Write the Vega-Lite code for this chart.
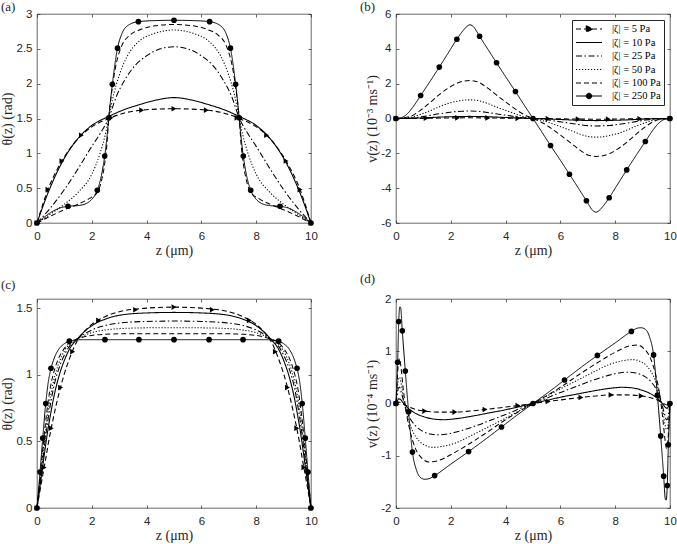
{
  "$schema": "https://vega.github.io/schema/vega-lite/v6.json",
  "background": "white",
  "padding": {"left": 0, "top": 0, "right": 0, "bottom": 0},
  "bounds": "flush",
  "spacing": {"row": 76, "column": 85},
  "columns": 2,
  "config": {
    "view": {"stroke": "#262626", "strokeWidth": 0.7},
    "axis": {"grid": false, "domain": false, "labelFlush": false, "labelOverlap": false, "tickColor": "#262626", "tickWidth": 0.7, "tickSize": -3,
      "labelFont": "Liberation Sans", "labelFontSize": 11.5, "labelColor": "#262626",
      "titleFont": "Liberation Serif", "titleFontSize": 14, "titleFontWeight": "normal", "titleColor": "#262626"},
    "axisBottom": {"labelPadding": 10, "titlePadding": 2},
    "axisLeft": {"labelPadding": 8, "titlePadding": 1.5},
    "title": {"font": "Liberation Serif", "fontSize": 13, "fontWeight": "normal", "color": "#262626", "anchor": "start", "frame": "group", "dx": -36}
  },
  "resolve": {"scale": {"strokeDash": "independent", "strokeWidth": "independent", "shape": "independent"}},
  "datasets": {
    "lines": [
      {"p":"a","s":"250","z":0,"v":0},{"p":"a","s":"250","z":0.25,"v":0.08},{"p":"a","s":"250","z":0.5,"v":0.15},{"p":"a","s":"250","z":0.8,"v":0.21},{"p":"a","s":"250","z":1.13,"v":0.24},{"p":"a","s":"250","z":1.5,"v":0.25},{"p":"a","s":"250","z":1.8,"v":0.28},{"p":"a","s":"250","z":2,"v":0.34},{"p":"a","s":"250","z":2.2,"v":0.47},{"p":"a","s":"250","z":2.35,"v":0.68},{"p":"a","s":"250","z":2.47,"v":0.96},{"p":"a","s":"250","z":2.55,"v":1.22},{"p":"a","s":"250","z":2.62,"v":1.51},{"p":"a","s":"250","z":2.75,"v":1.99},{"p":"a","s":"250","z":2.94,"v":2.51},{"p":"a","s":"250","z":3.1,"v":2.72},{"p":"a","s":"250","z":3.3,"v":2.83},{"p":"a","s":"250","z":3.7,"v":2.89},{"p":"a","s":"250","z":4.3,"v":2.905},{"p":"a","s":"250","z":5,"v":2.91},{"p":"a","s":"250","z":5.7,"v":2.905},{"p":"a","s":"250","z":6.3,"v":2.89},{"p":"a","s":"250","z":6.7,"v":2.83},{"p":"a","s":"250","z":6.9,"v":2.72},{"p":"a","s":"250","z":7.06,"v":2.51},{"p":"a","s":"250","z":7.25,"v":1.99},{"p":"a","s":"250","z":7.38,"v":1.51},{"p":"a","s":"250","z":7.45,"v":1.22},{"p":"a","s":"250","z":7.53,"v":0.96},{"p":"a","s":"250","z":7.65,"v":0.68},{"p":"a","s":"250","z":7.8,"v":0.47},{"p":"a","s":"250","z":8,"v":0.34},{"p":"a","s":"250","z":8.2,"v":0.28},{"p":"a","s":"250","z":8.5,"v":0.25},{"p":"a","s":"250","z":8.87,"v":0.24},{"p":"a","s":"250","z":9.2,"v":0.21},{"p":"a","s":"250","z":9.5,"v":0.15},{"p":"a","s":"250","z":9.75,"v":0.08},{"p":"a","s":"250","z":10,"v":0},
      {"p":"a","s":"100","z":0,"v":0},{"p":"a","s":"100","z":0.5,"v":0.1},{"p":"a","s":"100","z":1,"v":0.19},{"p":"a","s":"100","z":1.5,"v":0.27},{"p":"a","s":"100","z":1.9,"v":0.35},{"p":"a","s":"100","z":2.2,"v":0.44},{"p":"a","s":"100","z":2.35,"v":0.6},{"p":"a","s":"100","z":2.47,"v":0.85},{"p":"a","s":"100","z":2.55,"v":1.12},{"p":"a","s":"100","z":2.62,"v":1.51},{"p":"a","s":"100","z":2.75,"v":1.95},{"p":"a","s":"100","z":2.9,"v":2.3},{"p":"a","s":"100","z":3.1,"v":2.55},{"p":"a","s":"100","z":3.4,"v":2.7},{"p":"a","s":"100","z":3.8,"v":2.78},{"p":"a","s":"100","z":4.3,"v":2.83},{"p":"a","s":"100","z":5,"v":2.85},{"p":"a","s":"100","z":5.7,"v":2.83},{"p":"a","s":"100","z":6.2,"v":2.78},{"p":"a","s":"100","z":6.6,"v":2.7},{"p":"a","s":"100","z":6.9,"v":2.55},{"p":"a","s":"100","z":7.1,"v":2.3},{"p":"a","s":"100","z":7.25,"v":1.95},{"p":"a","s":"100","z":7.38,"v":1.51},{"p":"a","s":"100","z":7.45,"v":1.12},{"p":"a","s":"100","z":7.53,"v":0.85},{"p":"a","s":"100","z":7.65,"v":0.6},{"p":"a","s":"100","z":7.8,"v":0.44},{"p":"a","s":"100","z":8.1,"v":0.35},{"p":"a","s":"100","z":8.5,"v":0.27},{"p":"a","s":"100","z":9,"v":0.19},{"p":"a","s":"100","z":9.5,"v":0.1},{"p":"a","s":"100","z":10,"v":0},
      {"p":"a","s":"50","z":0,"v":0},{"p":"a","s":"50","z":0.5,"v":0.13},{"p":"a","s":"50","z":1,"v":0.27},{"p":"a","s":"50","z":1.5,"v":0.44},{"p":"a","s":"50","z":2,"v":0.7},{"p":"a","s":"50","z":2.3,"v":1.0},{"p":"a","s":"50","z":2.5,"v":1.28},{"p":"a","s":"50","z":2.62,"v":1.51},{"p":"a","s":"50","z":2.8,"v":1.85},{"p":"a","s":"50","z":3,"v":2.12},{"p":"a","s":"50","z":3.3,"v":2.4},{"p":"a","s":"50","z":3.7,"v":2.6},{"p":"a","s":"50","z":4.2,"v":2.71},{"p":"a","s":"50","z":5,"v":2.77},{"p":"a","s":"50","z":5.8,"v":2.71},{"p":"a","s":"50","z":6.3,"v":2.6},{"p":"a","s":"50","z":6.7,"v":2.4},{"p":"a","s":"50","z":7,"v":2.12},{"p":"a","s":"50","z":7.2,"v":1.85},{"p":"a","s":"50","z":7.38,"v":1.51},{"p":"a","s":"50","z":7.5,"v":1.28},{"p":"a","s":"50","z":7.7,"v":1.0},{"p":"a","s":"50","z":8,"v":0.7},{"p":"a","s":"50","z":8.5,"v":0.44},{"p":"a","s":"50","z":9,"v":0.27},{"p":"a","s":"50","z":9.5,"v":0.13},{"p":"a","s":"50","z":10,"v":0},
      {"p":"a","s":"25","z":0,"v":0},{"p":"a","s":"25","z":0.5,"v":0.22},{"p":"a","s":"25","z":1,"v":0.48},{"p":"a","s":"25","z":1.5,"v":0.78},{"p":"a","s":"25","z":2,"v":1.1},{"p":"a","s":"25","z":2.3,"v":1.28},{"p":"a","s":"25","z":2.62,"v":1.51},{"p":"a","s":"25","z":2.9,"v":1.82},{"p":"a","s":"25","z":3.2,"v":2.05},{"p":"a","s":"25","z":3.6,"v":2.27},{"p":"a","s":"25","z":4,"v":2.4},{"p":"a","s":"25","z":4.5,"v":2.5},{"p":"a","s":"25","z":5,"v":2.53},{"p":"a","s":"25","z":5.5,"v":2.5},{"p":"a","s":"25","z":6,"v":2.4},{"p":"a","s":"25","z":6.4,"v":2.27},{"p":"a","s":"25","z":6.8,"v":2.05},{"p":"a","s":"25","z":7.1,"v":1.82},{"p":"a","s":"25","z":7.38,"v":1.51},{"p":"a","s":"25","z":7.7,"v":1.28},{"p":"a","s":"25","z":8,"v":1.1},{"p":"a","s":"25","z":8.5,"v":0.78},{"p":"a","s":"25","z":9,"v":0.48},{"p":"a","s":"25","z":9.5,"v":0.22},{"p":"a","s":"25","z":10,"v":0},
      {"p":"a","s":"10","z":0,"v":0},{"p":"a","s":"10","z":0.4,"v":0.43},{"p":"a","s":"10","z":0.9,"v":0.86},{"p":"a","s":"10","z":1.6,"v":1.26},{"p":"a","s":"10","z":2,"v":1.4},{"p":"a","s":"10","z":2.62,"v":1.53},{"p":"a","s":"10","z":3.2,"v":1.63},{"p":"a","s":"10","z":3.75,"v":1.7},{"p":"a","s":"10","z":4.3,"v":1.76},{"p":"a","s":"10","z":5,"v":1.8},{"p":"a","s":"10","z":5.7,"v":1.76},{"p":"a","s":"10","z":6.25,"v":1.7},{"p":"a","s":"10","z":6.8,"v":1.63},{"p":"a","s":"10","z":7.38,"v":1.53},{"p":"a","s":"10","z":8,"v":1.4},{"p":"a","s":"10","z":8.4,"v":1.26},{"p":"a","s":"10","z":9.1,"v":0.86},{"p":"a","s":"10","z":9.6,"v":0.43},{"p":"a","s":"10","z":10,"v":0},
      {"p":"a","s":"5","z":0,"v":0},{"p":"a","s":"5","z":0.4,"v":0.48},{"p":"a","s":"5","z":0.91,"v":0.89},{"p":"a","s":"5","z":1.62,"v":1.26},{"p":"a","s":"5","z":2,"v":1.38},{"p":"a","s":"5","z":2.62,"v":1.5},{"p":"a","s":"5","z":3.2,"v":1.58},{"p":"a","s":"5","z":3.82,"v":1.62},{"p":"a","s":"5","z":4.4,"v":1.635},{"p":"a","s":"5","z":5,"v":1.64},{"p":"a","s":"5","z":5.6,"v":1.635},{"p":"a","s":"5","z":6.18,"v":1.62},{"p":"a","s":"5","z":6.8,"v":1.58},{"p":"a","s":"5","z":7.38,"v":1.5},{"p":"a","s":"5","z":8,"v":1.38},{"p":"a","s":"5","z":8.38,"v":1.26},{"p":"a","s":"5","z":9.09,"v":0.89},{"p":"a","s":"5","z":9.6,"v":0.48},{"p":"a","s":"5","z":10,"v":0},

      {"p":"b","s":"250","z":0,"v":0},{"p":"b","s":"250","z":0.2,"v":0.05},{"p":"b","s":"250","z":0.4,"v":0.25},{"p":"b","s":"250","z":0.6,"v":0.62},{"p":"b","s":"250","z":0.9,"v":1.32},{"p":"b","s":"250","z":1.25,"v":2.15},{"p":"b","s":"250","z":1.58,"v":2.95},{"p":"b","s":"250","z":1.9,"v":3.75},{"p":"b","s":"250","z":2.22,"v":4.55},{"p":"b","s":"250","z":2.45,"v":5.05},{"p":"b","s":"250","z":2.6,"v":5.3},{"p":"b","s":"250","z":2.7,"v":5.38},{"p":"b","s":"250","z":2.82,"v":5.28},{"p":"b","s":"250","z":3.05,"v":4.72},{"p":"b","s":"250","z":3.35,"v":3.98},{"p":"b","s":"250","z":3.67,"v":3.2},{"p":"b","s":"250","z":4,"v":2.4},{"p":"b","s":"250","z":4.36,"v":1.55},{"p":"b","s":"250","z":4.7,"v":0.72},{"p":"b","s":"250","z":5,"v":0},{"p":"b","s":"250","z":5.3,"v":-0.72},{"p":"b","s":"250","z":5.64,"v":-1.55},{"p":"b","s":"250","z":6,"v":-2.4},{"p":"b","s":"250","z":6.33,"v":-3.2},{"p":"b","s":"250","z":6.65,"v":-3.98},{"p":"b","s":"250","z":6.95,"v":-4.72},{"p":"b","s":"250","z":7.18,"v":-5.28},{"p":"b","s":"250","z":7.3,"v":-5.38},{"p":"b","s":"250","z":7.4,"v":-5.3},{"p":"b","s":"250","z":7.55,"v":-5.05},{"p":"b","s":"250","z":7.78,"v":-4.55},{"p":"b","s":"250","z":8.1,"v":-3.75},{"p":"b","s":"250","z":8.42,"v":-2.95},{"p":"b","s":"250","z":8.75,"v":-2.15},{"p":"b","s":"250","z":9.1,"v":-1.32},{"p":"b","s":"250","z":9.4,"v":-0.62},{"p":"b","s":"250","z":9.6,"v":-0.25},{"p":"b","s":"250","z":9.8,"v":-0.05},{"p":"b","s":"250","z":10,"v":0},
      {"p":"b","s":"100","z":0,"v":0},{"p":"b","s":"100","z":0.3,"v":0.04},{"p":"b","s":"100","z":0.6,"v":0.17},{"p":"b","s":"100","z":0.9,"v":0.48},{"p":"b","s":"100","z":1.25,"v":0.92},{"p":"b","s":"100","z":1.58,"v":1.37},{"p":"b","s":"100","z":1.9,"v":1.74},{"p":"b","s":"100","z":2.2,"v":2.01},{"p":"b","s":"100","z":2.45,"v":2.14},{"p":"b","s":"100","z":2.7,"v":2.18},{"p":"b","s":"100","z":3,"v":2.09},{"p":"b","s":"100","z":3.35,"v":1.74},{"p":"b","s":"100","z":3.65,"v":1.37},{"p":"b","s":"100","z":3.96,"v":1.0},{"p":"b","s":"100","z":4.26,"v":0.65},{"p":"b","s":"100","z":4.56,"v":0.33},{"p":"b","s":"100","z":4.8,"v":0.13},{"p":"b","s":"100","z":5,"v":0},{"p":"b","s":"100","z":5.2,"v":-0.13},{"p":"b","s":"100","z":5.44,"v":-0.33},{"p":"b","s":"100","z":5.74,"v":-0.65},{"p":"b","s":"100","z":6.04,"v":-1.0},{"p":"b","s":"100","z":6.35,"v":-1.37},{"p":"b","s":"100","z":6.65,"v":-1.74},{"p":"b","s":"100","z":7,"v":-2.09},{"p":"b","s":"100","z":7.3,"v":-2.18},{"p":"b","s":"100","z":7.55,"v":-2.14},{"p":"b","s":"100","z":7.8,"v":-2.01},{"p":"b","s":"100","z":8.1,"v":-1.74},{"p":"b","s":"100","z":8.42,"v":-1.37},{"p":"b","s":"100","z":8.75,"v":-0.92},{"p":"b","s":"100","z":9.1,"v":-0.48},{"p":"b","s":"100","z":9.4,"v":-0.17},{"p":"b","s":"100","z":9.7,"v":-0.04},{"p":"b","s":"100","z":10,"v":0},
      {"p":"b","s":"50","z":0,"v":0},{"p":"b","s":"50","z":0.3,"v":0.02},{"p":"b","s":"50","z":0.6,"v":0.09},{"p":"b","s":"50","z":0.9,"v":0.24},{"p":"b","s":"50","z":1.25,"v":0.45},{"p":"b","s":"50","z":1.58,"v":0.67},{"p":"b","s":"50","z":1.9,"v":0.86},{"p":"b","s":"50","z":2.2,"v":0.98},{"p":"b","s":"50","z":2.45,"v":1.05},{"p":"b","s":"50","z":2.7,"v":1.07},{"p":"b","s":"50","z":3,"v":1.03},{"p":"b","s":"50","z":3.35,"v":0.86},{"p":"b","s":"50","z":3.65,"v":0.67},{"p":"b","s":"50","z":3.96,"v":0.49},{"p":"b","s":"50","z":4.26,"v":0.32},{"p":"b","s":"50","z":4.56,"v":0.16},{"p":"b","s":"50","z":4.8,"v":0.06},{"p":"b","s":"50","z":5,"v":0},{"p":"b","s":"50","z":5.2,"v":-0.06},{"p":"b","s":"50","z":5.44,"v":-0.16},{"p":"b","s":"50","z":5.74,"v":-0.32},{"p":"b","s":"50","z":6.04,"v":-0.49},{"p":"b","s":"50","z":6.35,"v":-0.67},{"p":"b","s":"50","z":6.65,"v":-0.86},{"p":"b","s":"50","z":7,"v":-1.03},{"p":"b","s":"50","z":7.3,"v":-1.07},{"p":"b","s":"50","z":7.55,"v":-1.05},{"p":"b","s":"50","z":7.8,"v":-0.98},{"p":"b","s":"50","z":8.1,"v":-0.86},{"p":"b","s":"50","z":8.42,"v":-0.67},{"p":"b","s":"50","z":8.75,"v":-0.45},{"p":"b","s":"50","z":9.1,"v":-0.24},{"p":"b","s":"50","z":9.4,"v":-0.09},{"p":"b","s":"50","z":9.7,"v":-0.02},{"p":"b","s":"50","z":10,"v":0},
      {"p":"b","s":"25","z":0,"v":0},{"p":"b","s":"25","z":0.3,"v":0.01},{"p":"b","s":"25","z":0.6,"v":0.03},{"p":"b","s":"25","z":0.9,"v":0.09},{"p":"b","s":"25","z":1.25,"v":0.18},{"p":"b","s":"25","z":1.58,"v":0.27},{"p":"b","s":"25","z":1.9,"v":0.34},{"p":"b","s":"25","z":2.2,"v":0.4},{"p":"b","s":"25","z":2.45,"v":0.42},{"p":"b","s":"25","z":2.7,"v":0.43},{"p":"b","s":"25","z":3,"v":0.41},{"p":"b","s":"25","z":3.35,"v":0.34},{"p":"b","s":"25","z":3.65,"v":0.27},{"p":"b","s":"25","z":3.96,"v":0.2},{"p":"b","s":"25","z":4.26,"v":0.13},{"p":"b","s":"25","z":4.56,"v":0.06},{"p":"b","s":"25","z":4.8,"v":0.03},{"p":"b","s":"25","z":5,"v":0},{"p":"b","s":"25","z":5.2,"v":-0.03},{"p":"b","s":"25","z":5.44,"v":-0.06},{"p":"b","s":"25","z":5.74,"v":-0.13},{"p":"b","s":"25","z":6.04,"v":-0.2},{"p":"b","s":"25","z":6.35,"v":-0.27},{"p":"b","s":"25","z":6.65,"v":-0.34},{"p":"b","s":"25","z":7,"v":-0.41},{"p":"b","s":"25","z":7.3,"v":-0.43},{"p":"b","s":"25","z":7.55,"v":-0.42},{"p":"b","s":"25","z":7.8,"v":-0.4},{"p":"b","s":"25","z":8.1,"v":-0.34},{"p":"b","s":"25","z":8.42,"v":-0.27},{"p":"b","s":"25","z":8.75,"v":-0.18},{"p":"b","s":"25","z":9.1,"v":-0.09},{"p":"b","s":"25","z":9.4,"v":-0.03},{"p":"b","s":"25","z":9.7,"v":-0.01},{"p":"b","s":"25","z":10,"v":0},
      {"p":"b","s":"10","z":0,"v":0},{"p":"b","s":"10","z":0.9,"v":0.03},{"p":"b","s":"10","z":1.58,"v":0.08},{"p":"b","s":"10","z":2.2,"v":0.11},{"p":"b","s":"10","z":2.7,"v":0.12},{"p":"b","s":"10","z":3.35,"v":0.1},{"p":"b","s":"10","z":3.96,"v":0.06},{"p":"b","s":"10","z":4.56,"v":0.02},{"p":"b","s":"10","z":5,"v":0},{"p":"b","s":"10","z":5.44,"v":-0.02},{"p":"b","s":"10","z":6.04,"v":-0.06},{"p":"b","s":"10","z":6.65,"v":-0.1},{"p":"b","s":"10","z":7.3,"v":-0.12},{"p":"b","s":"10","z":7.8,"v":-0.11},{"p":"b","s":"10","z":8.42,"v":-0.08},{"p":"b","s":"10","z":9.1,"v":-0.03},{"p":"b","s":"10","z":10,"v":0},
      {"p":"b","s":"5","z":0,"v":0},{"p":"b","s":"5","z":0.9,"v":0.01},{"p":"b","s":"5","z":1.58,"v":0.025},{"p":"b","s":"5","z":2.2,"v":0.037},{"p":"b","s":"5","z":2.7,"v":0.04},{"p":"b","s":"5","z":3.35,"v":0.032},{"p":"b","s":"5","z":3.96,"v":0.018},{"p":"b","s":"5","z":4.56,"v":0.006},{"p":"b","s":"5","z":5,"v":0},{"p":"b","s":"5","z":5.44,"v":-0.006},{"p":"b","s":"5","z":6.04,"v":-0.018},{"p":"b","s":"5","z":6.65,"v":-0.032},{"p":"b","s":"5","z":7.3,"v":-0.04},{"p":"b","s":"5","z":7.8,"v":-0.037},{"p":"b","s":"5","z":8.42,"v":-0.025},{"p":"b","s":"5","z":9.1,"v":-0.01},{"p":"b","s":"5","z":10,"v":0},

      {"p":"c","s":"250","z":0,"v":0},{"p":"c","s":"250","z":0.1,"v":0.245},{"p":"c","s":"250","z":0.2,"v":0.5},{"p":"c","s":"250","z":0.3,"v":0.745},{"p":"c","s":"250","z":0.4,"v":0.93},{"p":"c","s":"250","z":0.5,"v":1.04},{"p":"c","s":"250","z":0.6,"v":1.11},{"p":"c","s":"250","z":0.8,"v":1.195},{"p":"c","s":"250","z":1,"v":1.235},{"p":"c","s":"250","z":1.2,"v":1.255},{"p":"c","s":"250","z":1.45,"v":1.263},{"p":"c","s":"250","z":1.7,"v":1.265},{"p":"c","s":"250","z":2,"v":1.265},{"p":"c","s":"250","z":2.5,"v":1.265},{"p":"c","s":"250","z":3,"v":1.265},{"p":"c","s":"250","z":4,"v":1.265},{"p":"c","s":"250","z":5,"v":1.265},{"p":"c","s":"250","z":6,"v":1.265},{"p":"c","s":"250","z":7,"v":1.265},{"p":"c","s":"250","z":7.5,"v":1.265},{"p":"c","s":"250","z":8,"v":1.265},{"p":"c","s":"250","z":8.3,"v":1.265},{"p":"c","s":"250","z":8.55,"v":1.263},{"p":"c","s":"250","z":8.8,"v":1.255},{"p":"c","s":"250","z":9,"v":1.235},{"p":"c","s":"250","z":9.2,"v":1.195},{"p":"c","s":"250","z":9.4,"v":1.11},{"p":"c","s":"250","z":9.5,"v":1.04},{"p":"c","s":"250","z":9.6,"v":0.93},{"p":"c","s":"250","z":9.7,"v":0.745},{"p":"c","s":"250","z":9.8,"v":0.5},{"p":"c","s":"250","z":9.9,"v":0.245},{"p":"c","s":"250","z":10,"v":0},
      {"p":"c","s":"100","z":0,"v":0},{"p":"c","s":"100","z":0.1,"v":0.21},{"p":"c","s":"100","z":0.2,"v":0.42},{"p":"c","s":"100","z":0.3,"v":0.62},{"p":"c","s":"100","z":0.4,"v":0.79},{"p":"c","s":"100","z":0.5,"v":0.92},{"p":"c","s":"100","z":0.6,"v":1.01},{"p":"c","s":"100","z":0.8,"v":1.13},{"p":"c","s":"100","z":1,"v":1.2},{"p":"c","s":"100","z":1.2,"v":1.245},{"p":"c","s":"100","z":1.45,"v":1.268},{"p":"c","s":"100","z":1.7,"v":1.285},{"p":"c","s":"100","z":2,"v":1.297},{"p":"c","s":"100","z":2.5,"v":1.306},{"p":"c","s":"100","z":3,"v":1.309},{"p":"c","s":"100","z":4,"v":1.31},{"p":"c","s":"100","z":5,"v":1.31},{"p":"c","s":"100","z":6,"v":1.31},{"p":"c","s":"100","z":7,"v":1.309},{"p":"c","s":"100","z":7.5,"v":1.306},{"p":"c","s":"100","z":8,"v":1.297},{"p":"c","s":"100","z":8.3,"v":1.285},{"p":"c","s":"100","z":8.55,"v":1.268},{"p":"c","s":"100","z":8.8,"v":1.245},{"p":"c","s":"100","z":9,"v":1.2},{"p":"c","s":"100","z":9.2,"v":1.13},{"p":"c","s":"100","z":9.4,"v":1.01},{"p":"c","s":"100","z":9.5,"v":0.92},{"p":"c","s":"100","z":9.6,"v":0.79},{"p":"c","s":"100","z":9.7,"v":0.62},{"p":"c","s":"100","z":9.8,"v":0.42},{"p":"c","s":"100","z":9.9,"v":0.21},{"p":"c","s":"100","z":10,"v":0},
      {"p":"c","s":"50","z":0,"v":0},{"p":"c","s":"50","z":0.1,"v":0.19},{"p":"c","s":"50","z":0.2,"v":0.38},{"p":"c","s":"50","z":0.3,"v":0.56},{"p":"c","s":"50","z":0.4,"v":0.72},{"p":"c","s":"50","z":0.5,"v":0.85},{"p":"c","s":"50","z":0.6,"v":0.95},{"p":"c","s":"50","z":0.8,"v":1.09},{"p":"c","s":"50","z":1,"v":1.18},{"p":"c","s":"50","z":1.2,"v":1.235},{"p":"c","s":"50","z":1.45,"v":1.268},{"p":"c","s":"50","z":1.7,"v":1.295},{"p":"c","s":"50","z":2,"v":1.318},{"p":"c","s":"50","z":2.5,"v":1.338},{"p":"c","s":"50","z":3,"v":1.348},{"p":"c","s":"50","z":4,"v":1.354},{"p":"c","s":"50","z":5,"v":1.355},{"p":"c","s":"50","z":6,"v":1.354},{"p":"c","s":"50","z":7,"v":1.348},{"p":"c","s":"50","z":7.5,"v":1.338},{"p":"c","s":"50","z":8,"v":1.318},{"p":"c","s":"50","z":8.3,"v":1.295},{"p":"c","s":"50","z":8.55,"v":1.268},{"p":"c","s":"50","z":8.8,"v":1.235},{"p":"c","s":"50","z":9,"v":1.18},{"p":"c","s":"50","z":9.2,"v":1.09},{"p":"c","s":"50","z":9.4,"v":0.95},{"p":"c","s":"50","z":9.5,"v":0.85},{"p":"c","s":"50","z":9.6,"v":0.72},{"p":"c","s":"50","z":9.7,"v":0.56},{"p":"c","s":"50","z":9.8,"v":0.38},{"p":"c","s":"50","z":9.9,"v":0.19},{"p":"c","s":"50","z":10,"v":0},
      {"p":"c","s":"25","z":0,"v":0},{"p":"c","s":"25","z":0.1,"v":0.17},{"p":"c","s":"25","z":0.2,"v":0.34},{"p":"c","s":"25","z":0.3,"v":0.51},{"p":"c","s":"25","z":0.4,"v":0.66},{"p":"c","s":"25","z":0.5,"v":0.79},{"p":"c","s":"25","z":0.6,"v":0.9},{"p":"c","s":"25","z":0.8,"v":1.05},{"p":"c","s":"25","z":1,"v":1.15},{"p":"c","s":"25","z":1.2,"v":1.22},{"p":"c","s":"25","z":1.45,"v":1.267},{"p":"c","s":"25","z":1.7,"v":1.305},{"p":"c","s":"25","z":2,"v":1.338},{"p":"c","s":"25","z":2.5,"v":1.373},{"p":"c","s":"25","z":3,"v":1.39},{"p":"c","s":"25","z":4,"v":1.402},{"p":"c","s":"25","z":5,"v":1.405},{"p":"c","s":"25","z":6,"v":1.402},{"p":"c","s":"25","z":7,"v":1.39},{"p":"c","s":"25","z":7.5,"v":1.373},{"p":"c","s":"25","z":8,"v":1.338},{"p":"c","s":"25","z":8.3,"v":1.305},{"p":"c","s":"25","z":8.55,"v":1.267},{"p":"c","s":"25","z":8.8,"v":1.22},{"p":"c","s":"25","z":9,"v":1.15},{"p":"c","s":"25","z":9.2,"v":1.05},{"p":"c","s":"25","z":9.4,"v":0.9},{"p":"c","s":"25","z":9.5,"v":0.79},{"p":"c","s":"25","z":9.6,"v":0.66},{"p":"c","s":"25","z":9.7,"v":0.51},{"p":"c","s":"25","z":9.8,"v":0.34},{"p":"c","s":"25","z":9.9,"v":0.17},{"p":"c","s":"25","z":10,"v":0},
      {"p":"c","s":"10","z":0,"v":0},{"p":"c","s":"10","z":0.1,"v":0.15},{"p":"c","s":"10","z":0.2,"v":0.3},{"p":"c","s":"10","z":0.3,"v":0.45},{"p":"c","s":"10","z":0.4,"v":0.59},{"p":"c","s":"10","z":0.5,"v":0.71},{"p":"c","s":"10","z":0.6,"v":0.82},{"p":"c","s":"10","z":0.8,"v":0.99},{"p":"c","s":"10","z":1,"v":1.11},{"p":"c","s":"10","z":1.2,"v":1.2},{"p":"c","s":"10","z":1.45,"v":1.265},{"p":"c","s":"10","z":1.7,"v":1.32},{"p":"c","s":"10","z":2,"v":1.37},{"p":"c","s":"10","z":2.5,"v":1.42},{"p":"c","s":"10","z":3,"v":1.448},{"p":"c","s":"10","z":4,"v":1.466},{"p":"c","s":"10","z":5,"v":1.47},{"p":"c","s":"10","z":6,"v":1.466},{"p":"c","s":"10","z":7,"v":1.448},{"p":"c","s":"10","z":7.5,"v":1.42},{"p":"c","s":"10","z":8,"v":1.37},{"p":"c","s":"10","z":8.3,"v":1.32},{"p":"c","s":"10","z":8.55,"v":1.265},{"p":"c","s":"10","z":8.8,"v":1.2},{"p":"c","s":"10","z":9,"v":1.11},{"p":"c","s":"10","z":9.2,"v":0.99},{"p":"c","s":"10","z":9.4,"v":0.82},{"p":"c","s":"10","z":9.5,"v":0.71},{"p":"c","s":"10","z":9.6,"v":0.59},{"p":"c","s":"10","z":9.7,"v":0.45},{"p":"c","s":"10","z":9.8,"v":0.3},{"p":"c","s":"10","z":9.9,"v":0.15},{"p":"c","s":"10","z":10,"v":0},
      {"p":"c","s":"5","z":0,"v":0},{"p":"c","s":"5","z":0.1,"v":0.12},{"p":"c","s":"5","z":0.2,"v":0.235},{"p":"c","s":"5","z":0.3,"v":0.35},{"p":"c","s":"5","z":0.4,"v":0.47},{"p":"c","s":"5","z":0.5,"v":0.58},{"p":"c","s":"5","z":0.6,"v":0.68},{"p":"c","s":"5","z":0.8,"v":0.86},{"p":"c","s":"5","z":1,"v":1.01},{"p":"c","s":"5","z":1.2,"v":1.13},{"p":"c","s":"5","z":1.45,"v":1.25},{"p":"c","s":"5","z":1.7,"v":1.32},{"p":"c","s":"5","z":2,"v":1.38},{"p":"c","s":"5","z":2.5,"v":1.44},{"p":"c","s":"5","z":3,"v":1.475},{"p":"c","s":"5","z":4,"v":1.502},{"p":"c","s":"5","z":5,"v":1.51},{"p":"c","s":"5","z":6,"v":1.502},{"p":"c","s":"5","z":7,"v":1.475},{"p":"c","s":"5","z":7.5,"v":1.44},{"p":"c","s":"5","z":8,"v":1.38},{"p":"c","s":"5","z":8.3,"v":1.32},{"p":"c","s":"5","z":8.55,"v":1.25},{"p":"c","s":"5","z":8.8,"v":1.13},{"p":"c","s":"5","z":9,"v":1.01},{"p":"c","s":"5","z":9.2,"v":0.86},{"p":"c","s":"5","z":9.4,"v":0.68},{"p":"c","s":"5","z":9.5,"v":0.58},{"p":"c","s":"5","z":9.6,"v":0.47},{"p":"c","s":"5","z":9.7,"v":0.35},{"p":"c","s":"5","z":9.8,"v":0.235},{"p":"c","s":"5","z":9.9,"v":0.12},{"p":"c","s":"5","z":10,"v":0},

      {"p":"d","s":"250","z":0,"v":0},{"p":"d","s":"250","z":0.03,"v":0.35},{"p":"d","s":"250","z":0.06,"v":0.79},{"p":"d","s":"250","z":0.1,"v":1.57},{"p":"d","s":"250","z":0.14,"v":1.85},{"p":"d","s":"250","z":0.17,"v":1.83},{"p":"d","s":"250","z":0.23,"v":1.39},{"p":"d","s":"250","z":0.34,"v":0.62},{"p":"d","s":"250","z":0.46,"v":-0.16},{"p":"d","s":"250","z":0.6,"v":-0.93},{"p":"d","s":"250","z":0.75,"v":-1.28},{"p":"d","s":"250","z":0.9,"v":-1.42},{"p":"d","s":"250","z":1.06,"v":-1.45},{"p":"d","s":"250","z":1.2,"v":-1.44},{"p":"d","s":"250","z":1.41,"v":-1.38},{"p":"d","s":"250","z":2,"v":-1.16},{"p":"d","s":"250","z":2.65,"v":-0.92},{"p":"d","s":"250","z":3.25,"v":-0.69},{"p":"d","s":"250","z":3.85,"v":-0.45},{"p":"d","s":"250","z":4.4,"v":-0.23},{"p":"d","s":"250","z":5,"v":0},{"p":"d","s":"250","z":5.6,"v":0.23},{"p":"d","s":"250","z":6.15,"v":0.45},{"p":"d","s":"250","z":6.75,"v":0.69},{"p":"d","s":"250","z":7.35,"v":0.92},{"p":"d","s":"250","z":8,"v":1.16},{"p":"d","s":"250","z":8.59,"v":1.38},{"p":"d","s":"250","z":8.8,"v":1.44},{"p":"d","s":"250","z":8.94,"v":1.45},{"p":"d","s":"250","z":9.1,"v":1.42},{"p":"d","s":"250","z":9.25,"v":1.28},{"p":"d","s":"250","z":9.4,"v":0.93},{"p":"d","s":"250","z":9.54,"v":0.16},{"p":"d","s":"250","z":9.66,"v":-0.62},{"p":"d","s":"250","z":9.77,"v":-1.39},{"p":"d","s":"250","z":9.83,"v":-1.83},{"p":"d","s":"250","z":9.86,"v":-1.85},{"p":"d","s":"250","z":9.9,"v":-1.57},{"p":"d","s":"250","z":9.94,"v":-0.79},{"p":"d","s":"250","z":9.97,"v":-0.35},{"p":"d","s":"250","z":10,"v":0},
      {"p":"d","s":"100","z":0,"v":0},{"p":"d","s":"100","z":0.04,"v":0.4},{"p":"d","s":"100","z":0.09,"v":0.78},{"p":"d","s":"100","z":0.13,"v":0.86},{"p":"d","s":"100","z":0.18,"v":0.7},{"p":"d","s":"100","z":0.26,"v":0.3},{"p":"d","s":"100","z":0.36,"v":-0.12},{"p":"d","s":"100","z":0.5,"v":-0.5},{"p":"d","s":"100","z":0.7,"v":-0.85},{"p":"d","s":"100","z":0.95,"v":-1.05},{"p":"d","s":"100","z":1.2,"v":-1.12},{"p":"d","s":"100","z":1.5,"v":-1.1},{"p":"d","s":"100","z":2,"v":-0.98},{"p":"d","s":"100","z":2.65,"v":-0.78},{"p":"d","s":"100","z":3.3,"v":-0.56},{"p":"d","s":"100","z":4,"v":-0.31},{"p":"d","s":"100","z":4.5,"v":-0.15},{"p":"d","s":"100","z":5,"v":0},{"p":"d","s":"100","z":5.5,"v":0.15},{"p":"d","s":"100","z":6,"v":0.31},{"p":"d","s":"100","z":6.7,"v":0.56},{"p":"d","s":"100","z":7.35,"v":0.78},{"p":"d","s":"100","z":8,"v":0.98},{"p":"d","s":"100","z":8.5,"v":1.1},{"p":"d","s":"100","z":8.8,"v":1.12},{"p":"d","s":"100","z":9.05,"v":1.05},{"p":"d","s":"100","z":9.3,"v":0.85},{"p":"d","s":"100","z":9.5,"v":0.5},{"p":"d","s":"100","z":9.64,"v":0.12},{"p":"d","s":"100","z":9.74,"v":-0.3},{"p":"d","s":"100","z":9.82,"v":-0.7},{"p":"d","s":"100","z":9.87,"v":-0.86},{"p":"d","s":"100","z":9.91,"v":-0.78},{"p":"d","s":"100","z":9.96,"v":-0.4},{"p":"d","s":"100","z":10,"v":0},
      {"p":"d","s":"50","z":0,"v":0},{"p":"d","s":"50","z":0.04,"v":0.25},{"p":"d","s":"50","z":0.09,"v":0.47},{"p":"d","s":"50","z":0.13,"v":0.5},{"p":"d","s":"50","z":0.19,"v":0.38},{"p":"d","s":"50","z":0.28,"v":0.08},{"p":"d","s":"50","z":0.4,"v":-0.22},{"p":"d","s":"50","z":0.6,"v":-0.52},{"p":"d","s":"50","z":0.85,"v":-0.72},{"p":"d","s":"50","z":1.1,"v":-0.81},{"p":"d","s":"50","z":1.37,"v":-0.84},{"p":"d","s":"50","z":1.7,"v":-0.82},{"p":"d","s":"50","z":2.2,"v":-0.75},{"p":"d","s":"50","z":2.8,"v":-0.6},{"p":"d","s":"50","z":3.4,"v":-0.44},{"p":"d","s":"50","z":4,"v":-0.28},{"p":"d","s":"50","z":4.5,"v":-0.14},{"p":"d","s":"50","z":5,"v":0},{"p":"d","s":"50","z":5.5,"v":0.14},{"p":"d","s":"50","z":6,"v":0.28},{"p":"d","s":"50","z":6.6,"v":0.44},{"p":"d","s":"50","z":7.2,"v":0.6},{"p":"d","s":"50","z":7.8,"v":0.75},{"p":"d","s":"50","z":8.3,"v":0.82},{"p":"d","s":"50","z":8.63,"v":0.84},{"p":"d","s":"50","z":8.9,"v":0.81},{"p":"d","s":"50","z":9.15,"v":0.72},{"p":"d","s":"50","z":9.4,"v":0.52},{"p":"d","s":"50","z":9.6,"v":0.22},{"p":"d","s":"50","z":9.72,"v":-0.08},{"p":"d","s":"50","z":9.81,"v":-0.38},{"p":"d","s":"50","z":9.87,"v":-0.5},{"p":"d","s":"50","z":9.91,"v":-0.47},{"p":"d","s":"50","z":9.96,"v":-0.25},{"p":"d","s":"50","z":10,"v":0},
      {"p":"d","s":"25","z":0,"v":0},{"p":"d","s":"25","z":0.04,"v":0.15},{"p":"d","s":"25","z":0.09,"v":0.3},{"p":"d","s":"25","z":0.13,"v":0.31},{"p":"d","s":"25","z":0.2,"v":0.2},{"p":"d","s":"25","z":0.3,"v":0},{"p":"d","s":"25","z":0.45,"v":-0.22},{"p":"d","s":"25","z":0.7,"v":-0.42},{"p":"d","s":"25","z":1,"v":-0.54},{"p":"d","s":"25","z":1.3,"v":-0.59},{"p":"d","s":"25","z":1.5,"v":-0.6},{"p":"d","s":"25","z":1.8,"v":-0.59},{"p":"d","s":"25","z":2.3,"v":-0.53},{"p":"d","s":"25","z":2.9,"v":-0.43},{"p":"d","s":"25","z":3.5,"v":-0.31},{"p":"d","s":"25","z":4.1,"v":-0.19},{"p":"d","s":"25","z":4.6,"v":-0.08},{"p":"d","s":"25","z":5,"v":0},{"p":"d","s":"25","z":5.4,"v":0.08},{"p":"d","s":"25","z":5.9,"v":0.19},{"p":"d","s":"25","z":6.5,"v":0.31},{"p":"d","s":"25","z":7.1,"v":0.43},{"p":"d","s":"25","z":7.7,"v":0.53},{"p":"d","s":"25","z":8.2,"v":0.59},{"p":"d","s":"25","z":8.5,"v":0.6},{"p":"d","s":"25","z":8.7,"v":0.59},{"p":"d","s":"25","z":9,"v":0.54},{"p":"d","s":"25","z":9.3,"v":0.42},{"p":"d","s":"25","z":9.55,"v":0.22},{"p":"d","s":"25","z":9.7,"v":0},{"p":"d","s":"25","z":9.8,"v":-0.2},{"p":"d","s":"25","z":9.87,"v":-0.31},{"p":"d","s":"25","z":9.91,"v":-0.3},{"p":"d","s":"25","z":9.96,"v":-0.15},{"p":"d","s":"25","z":10,"v":0},
      {"p":"d","s":"10","z":0,"v":0},{"p":"d","s":"10","z":0.05,"v":0.05},{"p":"d","s":"10","z":0.1,"v":0.09},{"p":"d","s":"10","z":0.16,"v":0.08},{"p":"d","s":"10","z":0.25,"v":0.02},{"p":"d","s":"10","z":0.4,"v":-0.07},{"p":"d","s":"10","z":0.65,"v":-0.17},{"p":"d","s":"10","z":1,"v":-0.25},{"p":"d","s":"10","z":1.4,"v":-0.3},{"p":"d","s":"10","z":1.75,"v":-0.31},{"p":"d","s":"10","z":2.2,"v":-0.29},{"p":"d","s":"10","z":2.8,"v":-0.24},{"p":"d","s":"10","z":3.4,"v":-0.18},{"p":"d","s":"10","z":4,"v":-0.12},{"p":"d","s":"10","z":4.5,"v":-0.06},{"p":"d","s":"10","z":5,"v":0},{"p":"d","s":"10","z":5.5,"v":0.06},{"p":"d","s":"10","z":6,"v":0.12},{"p":"d","s":"10","z":6.6,"v":0.18},{"p":"d","s":"10","z":7.2,"v":0.24},{"p":"d","s":"10","z":7.8,"v":0.29},{"p":"d","s":"10","z":8.25,"v":0.31},{"p":"d","s":"10","z":8.6,"v":0.3},{"p":"d","s":"10","z":9,"v":0.25},{"p":"d","s":"10","z":9.35,"v":0.17},{"p":"d","s":"10","z":9.6,"v":0.07},{"p":"d","s":"10","z":9.75,"v":-0.02},{"p":"d","s":"10","z":9.84,"v":-0.08},{"p":"d","s":"10","z":9.9,"v":-0.09},{"p":"d","s":"10","z":9.95,"v":-0.05},{"p":"d","s":"10","z":10,"v":0},
      {"p":"d","s":"5","z":0,"v":0},{"p":"d","s":"5","z":0.1,"v":0.03},{"p":"d","s":"5","z":0.2,"v":0.01},{"p":"d","s":"5","z":0.4,"v":-0.05},{"p":"d","s":"5","z":0.7,"v":-0.11},{"p":"d","s":"5","z":1.05,"v":-0.145},{"p":"d","s":"5","z":1.6,"v":-0.165},{"p":"d","s":"5","z":2.15,"v":-0.165},{"p":"d","s":"5","z":2.7,"v":-0.145},{"p":"d","s":"5","z":3.25,"v":-0.115},{"p":"d","s":"5","z":3.9,"v":-0.075},{"p":"d","s":"5","z":4.45,"v":-0.04},{"p":"d","s":"5","z":5,"v":0},{"p":"d","s":"5","z":5.55,"v":0.04},{"p":"d","s":"5","z":6.1,"v":0.075},{"p":"d","s":"5","z":6.75,"v":0.115},{"p":"d","s":"5","z":7.3,"v":0.145},{"p":"d","s":"5","z":7.85,"v":0.165},{"p":"d","s":"5","z":8.4,"v":0.165},{"p":"d","s":"5","z":8.95,"v":0.145},{"p":"d","s":"5","z":9.3,"v":0.11},{"p":"d","s":"5","z":9.6,"v":0.05},{"p":"d","s":"5","z":9.8,"v":-0.01},{"p":"d","s":"5","z":9.9,"v":-0.03},{"p":"d","s":"5","z":10,"v":0}
    ],
    "marks": [
      {"p":"a","s":"250","z":0,"v":0},{"p":"a","s":"250","z":1.13,"v":0.24},{"p":"a","s":"250","z":2.2,"v":0.47},{"p":"a","s":"250","z":2.47,"v":0.96},{"p":"a","s":"250","z":2.62,"v":1.51},{"p":"a","s":"250","z":2.75,"v":1.99},{"p":"a","s":"250","z":2.94,"v":2.51},{"p":"a","s":"250","z":3.7,"v":2.89},{"p":"a","s":"250","z":5,"v":2.91},{"p":"a","s":"250","z":6.3,"v":2.89},{"p":"a","s":"250","z":7.06,"v":2.51},{"p":"a","s":"250","z":7.25,"v":1.99},{"p":"a","s":"250","z":7.38,"v":1.51},{"p":"a","s":"250","z":7.53,"v":0.96},{"p":"a","s":"250","z":7.8,"v":0.47},{"p":"a","s":"250","z":8.87,"v":0.24},{"p":"a","s":"250","z":10,"v":0},
      {"p":"a","s":"5","z":0,"v":0},{"p":"a","s":"5","z":0.4,"v":0.48},{"p":"a","s":"5","z":0.91,"v":0.89},{"p":"a","s":"5","z":1.62,"v":1.26},{"p":"a","s":"5","z":2.7,"v":1.51},{"p":"a","s":"5","z":3.82,"v":1.62},{"p":"a","s":"5","z":5,"v":1.64},{"p":"a","s":"5","z":6.18,"v":1.62},{"p":"a","s":"5","z":7.3,"v":1.51},{"p":"a","s":"5","z":8.38,"v":1.26},{"p":"a","s":"5","z":9.09,"v":0.89},{"p":"a","s":"5","z":9.6,"v":0.48},{"p":"a","s":"5","z":10,"v":0},
      {"p":"b","s":"250","z":0,"v":0},{"p":"b","s":"250","z":0.9,"v":1.32},{"p":"b","s":"250","z":1.58,"v":2.95},{"p":"b","s":"250","z":2.22,"v":4.55},{"p":"b","s":"250","z":3.05,"v":4.72},{"p":"b","s":"250","z":3.67,"v":3.2},{"p":"b","s":"250","z":4.36,"v":1.55},{"p":"b","s":"250","z":5,"v":0},{"p":"b","s":"250","z":5.64,"v":-1.55},{"p":"b","s":"250","z":6.33,"v":-3.2},{"p":"b","s":"250","z":6.95,"v":-4.72},{"p":"b","s":"250","z":7.78,"v":-4.55},{"p":"b","s":"250","z":8.42,"v":-2.95},{"p":"b","s":"250","z":9.1,"v":-1.32},{"p":"b","s":"250","z":10,"v":0},
      {"p":"b","s":"5","z":0,"v":0},{"p":"b","s":"5","z":1.1,"v":0.015},{"p":"b","s":"5","z":2.25,"v":0.037},{"p":"b","s":"5","z":3.35,"v":0.032},{"p":"b","s":"5","z":4.45,"v":0.008},{"p":"b","s":"5","z":5.55,"v":-0.008},{"p":"b","s":"5","z":6.65,"v":-0.032},{"p":"b","s":"5","z":7.75,"v":-0.037},{"p":"b","s":"5","z":8.9,"v":-0.015},{"p":"b","s":"5","z":10,"v":0},
      {"p":"c","s":"250","z":0,"v":0},{"p":"c","s":"250","z":0.11,"v":0.27},{"p":"c","s":"250","z":0.21,"v":0.525},{"p":"c","s":"250","z":0.32,"v":0.785},{"p":"c","s":"250","z":0.51,"v":1.05},{"p":"c","s":"250","z":1.18,"v":1.254},{"p":"c","s":"250","z":2.48,"v":1.265},{"p":"c","s":"250","z":3.72,"v":1.265},{"p":"c","s":"250","z":5,"v":1.265},{"p":"c","s":"250","z":6.28,"v":1.265},{"p":"c","s":"250","z":7.52,"v":1.265},{"p":"c","s":"250","z":8.82,"v":1.254},{"p":"c","s":"250","z":9.49,"v":1.05},{"p":"c","s":"250","z":9.68,"v":0.785},{"p":"c","s":"250","z":9.79,"v":0.525},{"p":"c","s":"250","z":9.89,"v":0.27},{"p":"c","s":"250","z":10,"v":0},
      {"p":"c","s":"5","z":0,"v":0},{"p":"c","s":"5","z":0.26,"v":0.305},{"p":"c","s":"5","z":0.52,"v":0.6},{"p":"c","s":"5","z":0.86,"v":0.905},{"p":"c","s":"5","z":1.3,"v":1.175},{"p":"c","s":"5","z":2.25,"v":1.41},{"p":"c","s":"5","z":3.6,"v":1.49},{"p":"c","s":"5","z":5,"v":1.51},{"p":"c","s":"5","z":6.4,"v":1.49},{"p":"c","s":"5","z":7.75,"v":1.41},{"p":"c","s":"5","z":8.7,"v":1.175},{"p":"c","s":"5","z":9.14,"v":0.905},{"p":"c","s":"5","z":9.48,"v":0.6},{"p":"c","s":"5","z":9.74,"v":0.305},{"p":"c","s":"5","z":10,"v":0},
      {"p":"d","s":"250","z":0,"v":0},{"p":"d","s":"250","z":0.06,"v":0.79},{"p":"d","s":"250","z":0.1,"v":1.57},{"p":"d","s":"250","z":0.23,"v":1.39},{"p":"d","s":"250","z":0.34,"v":0.62},{"p":"d","s":"250","z":0.46,"v":-0.16},{"p":"d","s":"250","z":0.6,"v":-0.93},{"p":"d","s":"250","z":1.41,"v":-1.38},{"p":"d","s":"250","z":2.65,"v":-0.92},{"p":"d","s":"250","z":3.85,"v":-0.45},{"p":"d","s":"250","z":5,"v":0},{"p":"d","s":"250","z":6.15,"v":0.45},{"p":"d","s":"250","z":7.35,"v":0.92},{"p":"d","s":"250","z":8.59,"v":1.38},{"p":"d","s":"250","z":9.4,"v":0.93},{"p":"d","s":"250","z":9.54,"v":0.16},{"p":"d","s":"250","z":9.66,"v":-0.62},{"p":"d","s":"250","z":9.77,"v":-1.39},{"p":"d","s":"250","z":9.9,"v":-1.57},{"p":"d","s":"250","z":9.94,"v":-0.79},{"p":"d","s":"250","z":10,"v":0},
      {"p":"d","s":"5","z":0,"v":0},{"p":"d","s":"5","z":1.05,"v":-0.145},{"p":"d","s":"5","z":2.15,"v":-0.165},{"p":"d","s":"5","z":3.25,"v":-0.115},{"p":"d","s":"5","z":4.45,"v":-0.04},{"p":"d","s":"5","z":5.55,"v":0.04},{"p":"d","s":"5","z":6.75,"v":0.115},{"p":"d","s":"5","z":7.85,"v":0.165},{"p":"d","s":"5","z":8.95,"v":0.145},{"p":"d","s":"5","z":10,"v":0}
    ]
  },
  "concat": [
    {
      "width": 274, "height": 209,
      "title": {"text": "(a)", "offset": 2, "dy": 7.5},
      "layer": [
        {"data": {"name": "lines"}, "transform": [{"filter": "datum.p == 'a'"}],
          "mark": {"type": "line", "interpolate": "monotone", "color": "black"},
          "encoding": {
            "x": {"field": "z", "type": "quantitative", "scale": {"domain": [0, 10], "nice": false}, "axis": {"orient": "bottom", "values": [0,2,4,6,8,10], "title": "z (μm)"}},
            "y": {"field": "v", "type": "quantitative", "scale": {"domain": [0, 3], "nice": false, "zero": false}, "axis": {"orient": "left", "values": [0,0.5,1,1.5,2,2.5,3], "labelExpr": "'' + datum.value", "title": "θ(z) (rad)"}},
            "strokeDash": {"field": "s", "type": "nominal", "scale": {"domain": ["5","10","25","50","100","250"], "range": [[5,3],[1,0],[6,2.5,1.5,2.5],[1.2,1.8],[5,3],[1,0]]}, "legend": null},
            "strokeWidth": {"field": "s", "type": "ordinal", "scale": {"domain": ["5","10","25","50","100","250"], "range": [1.1,1,1.1,1.1,1.1,1.7]}, "legend": null}
          }},
        {"data": {"name": "marks"}, "transform": [{"filter": "datum.p == 'a'"}],
          "mark": {"type": "point", "filled": true, "color": "black", "opacity": 1, "size": 32},
          "encoding": {
            "x": {"field": "z", "type": "quantitative", "axis": {"orient": "top", "values": [0,2,4,6,8,10], "labels": false, "title": null}},
            "y": {"field": "v", "type": "quantitative", "axis": {"orient": "right", "values": [0,0.5,1,1.5,2,2.5,3], "labels": false, "title": null}},
            "shape": {"field": "s", "type": "nominal", "scale": {"domain": ["5","250"], "range": ["triangle-right","circle"]}, "legend": null}
          }}
      ],
      "resolve": {"axis": {"x": "independent", "y": "independent"}}
    },
    {
      "width": 274, "height": 209,
      "title": {"text": "(b)", "offset": 2, "dy": 7.5},
      "layer": [
        {"data": {"name": "lines"}, "transform": [{"filter": "datum.p == 'b'"}],
          "mark": {"type": "line", "interpolate": "monotone", "color": "black"},
          "encoding": {
            "x": {"field": "z", "type": "quantitative", "scale": {"domain": [0, 10], "nice": false}, "axis": {"orient": "bottom", "values": [0,2,4,6,8,10], "title": "z (μm)"}},
            "y": {"field": "v", "type": "quantitative", "scale": {"domain": [-6, 6], "nice": false}, "axis": {"orient": "left", "values": [-6,-4,-2,0,2,4,6], "labelExpr": "'' + datum.value", "title": "v(z) (10⁻³ ms⁻¹)"}},
            "strokeDash": {"field": "s", "type": "nominal", "scale": {"domain": ["5","10","25","50","100","250"], "range": [[5,3],[1,0],[6,2.5,1.5,2.5],[1.2,1.8],[5,3],[1,0]]},
              "legend": {"orient": "top-right", "offset": 6, "title": null, "symbolType": "stroke", "symbolSize": 100, "symbolOffset": 8, "labelOffset": 17,
                "labelExpr": "'|ζ| = ' + datum.label + ' Pa'", "labelFont": "Liberation Serif", "labelFontSize": 10.5, "labelColor": "black",
                "strokeColor": "#262626", "fillColor": "white", "padding": 3, "rowPadding": 1.5, "symbolStrokeColor": "black", "symbolStrokeWidth": 1,
                "encode": {"symbols": {"update": {
                  "shape": {"signal": "datum.value === '5' ? 'M-2.6,0H2.6M-0.55,-0.65L0.75,0L-0.55,0.65Z' : datum.value === '250' ? 'M-2.6,0H2.6M0.55,0A0.55,0.55,0,1,1,-0.55,0A0.55,0.55,0,1,1,0.55,0' : 'M-2.6,0H2.6'"},
                  "fill": {"signal": "datum.value === '5' || datum.value === '250' ? 'black' : 'transparent'"},
                  "stroke": {"value": "black"},
                  "strokeOpacity": {"value": 1},
                  "strokeWidth": {"signal": "datum.value === '250' ? 1.6 : 1"}
                }}}}},
            "strokeWidth": {"field": "s", "type": "ordinal", "scale": {"domain": ["5","10","25","50","100","250"], "range": [1.1,1,1.1,1.1,1.1,1.7]}, "legend": null}
          }},
        {"data": {"name": "marks"}, "transform": [{"filter": "datum.p == 'b'"}],
          "mark": {"type": "point", "filled": true, "color": "black", "opacity": 1, "size": 32},
          "encoding": {
            "x": {"field": "z", "type": "quantitative", "axis": {"orient": "top", "values": [0,2,4,6,8,10], "labels": false, "title": null}},
            "y": {"field": "v", "type": "quantitative", "axis": {"orient": "right", "values": [-6,-4,-2,0,2,4,6], "labels": false, "title": null}},
            "shape": {"field": "s", "type": "nominal", "scale": {"domain": ["5","250"], "range": ["triangle-right","circle"]}, "legend": null}
          }}
      ],
      "resolve": {"axis": {"x": "independent", "y": "independent"}}
    },
    {
      "width": 274, "height": 209,
      "title": {"text": "(c)", "offset": 8, "dy": 1},
      "layer": [
        {"data": {"name": "lines"}, "transform": [{"filter": "datum.p == 'c'"}],
          "mark": {"type": "line", "interpolate": "monotone", "color": "black"},
          "encoding": {
            "x": {"field": "z", "type": "quantitative", "scale": {"domain": [0, 10], "nice": false}, "axis": {"orient": "bottom", "values": [0,2,4,6,8,10], "title": "z (μm)"}},
            "y": {"field": "v", "type": "quantitative", "scale": {"domain": [0, 1.5708], "nice": false, "zero": false}, "axis": {"orient": "left", "values": [0,0.5,1,1.5], "labelExpr": "'' + datum.value", "title": "θ(z) (rad)"}},
            "strokeDash": {"field": "s", "type": "nominal", "scale": {"domain": ["5","10","25","50","100","250"], "range": [[5,3],[1,0],[6,2.5,1.5,2.5],[1.2,1.8],[5,3],[1,0]]}, "legend": null},
            "strokeWidth": {"field": "s", "type": "ordinal", "scale": {"domain": ["5","10","25","50","100","250"], "range": [1.1,1,1.1,1.1,1.1,1.7]}, "legend": null}
          }},
        {"data": {"name": "marks"}, "transform": [{"filter": "datum.p == 'c'"}],
          "mark": {"type": "point", "filled": true, "color": "black", "opacity": 1, "size": 32},
          "encoding": {
            "x": {"field": "z", "type": "quantitative", "axis": {"orient": "top", "values": [0,2,4,6,8,10], "labels": false, "title": null}},
            "y": {"field": "v", "type": "quantitative", "axis": {"orient": "right", "values": [0,0.5,1,1.5], "labels": false, "title": null}},
            "shape": {"field": "s", "type": "nominal", "scale": {"domain": ["5","250"], "range": ["triangle-right","circle"]}, "legend": null}
          }}
      ],
      "resolve": {"axis": {"x": "independent", "y": "independent"}}
    },
    {
      "width": 274, "height": 209,
      "title": {"text": "(d)", "offset": 8, "dy": 1},
      "layer": [
        {"data": {"name": "lines"}, "transform": [{"filter": "datum.p == 'd'"}],
          "mark": {"type": "line", "interpolate": "monotone", "color": "black"},
          "encoding": {
            "x": {"field": "z", "type": "quantitative", "scale": {"domain": [0, 10], "nice": false}, "axis": {"orient": "bottom", "values": [0,2,4,6,8,10], "title": "z (μm)"}},
            "y": {"field": "v", "type": "quantitative", "scale": {"domain": [-2, 2], "nice": false}, "axis": {"orient": "left", "values": [-2,-1,0,1,2], "labelExpr": "'' + datum.value", "title": "v(z) (10⁻⁴ ms⁻¹)"}},
            "strokeDash": {"field": "s", "type": "nominal", "scale": {"domain": ["5","10","25","50","100","250"], "range": [[5,3],[1,0],[6,2.5,1.5,2.5],[1.2,1.8],[5,3],[1,0]]}, "legend": null},
            "strokeWidth": {"field": "s", "type": "ordinal", "scale": {"domain": ["5","10","25","50","100","250"], "range": [1.1,1,1.1,1.1,1.1,1.7]}, "legend": null}
          }},
        {"data": {"name": "marks"}, "transform": [{"filter": "datum.p == 'd'"}],
          "mark": {"type": "point", "filled": true, "color": "black", "opacity": 1, "size": 32},
          "encoding": {
            "x": {"field": "z", "type": "quantitative", "axis": {"orient": "top", "values": [0,2,4,6,8,10], "labels": false, "title": null}},
            "y": {"field": "v", "type": "quantitative", "axis": {"orient": "right", "values": [-2,-1,0,1,2], "labels": false, "title": null}},
            "shape": {"field": "s", "type": "nominal", "scale": {"domain": ["5","250"], "range": ["triangle-right","circle"]}, "legend": null}
          }}
      ],
      "resolve": {"axis": {"x": "independent", "y": "independent"}}
    }
  ]
}
